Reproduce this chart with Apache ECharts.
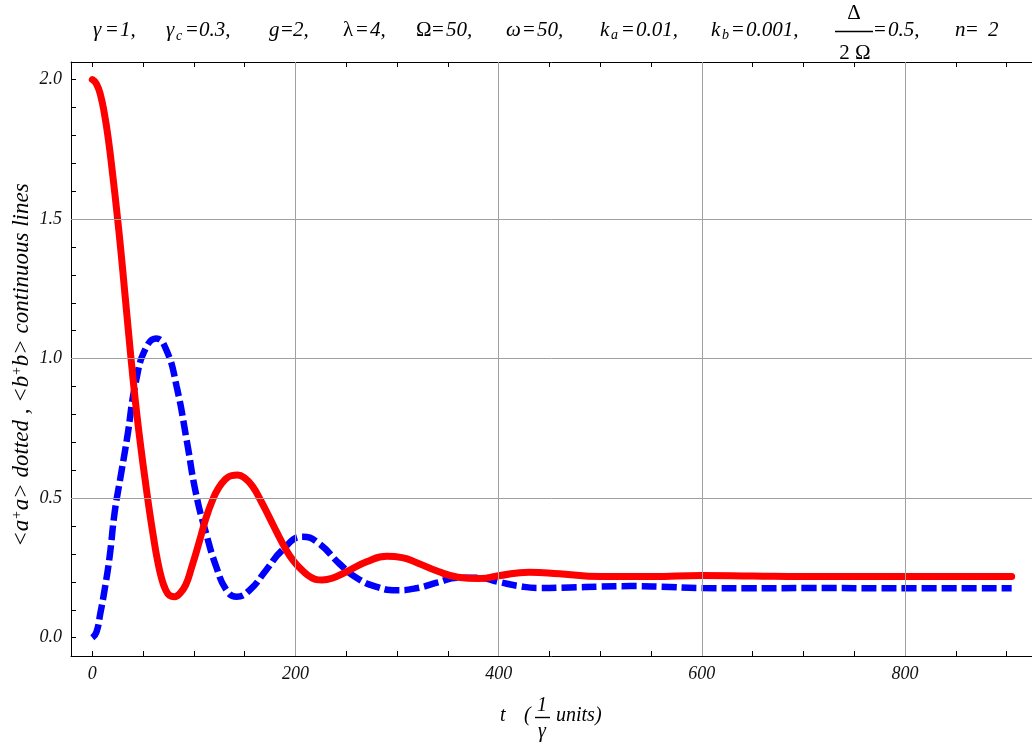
<!DOCTYPE html>
<html><head><meta charset="utf-8">
<script src="https://cdn.jsdelivr.net/npm/echarts@6/dist/echarts.min.js"></script>
<style>html,body{margin:0;padding:0;background:#fff}#c{width:1032px;height:745px}</style>
</head><body><div id="c"></div>
<script>
// <b+b> (continuous, red)
const redT = [0,4,8,12,16,20,24,28,32,36,40,44,48,52,56,60,64,68,72,76,81,86,92,98,105,112,118,124,131,137,143,150,158,166,174,182,190,198,207,216,226,236,250,270,290,305,320,340,360,380,400,430,460,500,550,600,650,700,800,905];
const redV = [2.0,1.985,1.945,1.875,1.78,1.66,1.53,1.39,1.235,1.08,0.93,0.795,0.675,0.565,0.46,0.365,0.28,0.215,0.173,0.152,0.147,0.158,0.19,0.255,0.34,0.43,0.49,0.535,0.568,0.581,0.583,0.572,0.541,0.49,0.433,0.375,0.32,0.275,0.24,0.215,0.207,0.213,0.236,0.272,0.292,0.287,0.268,0.238,0.217,0.212,0.222,0.235,0.229,0.219,0.219,0.223,0.221,0.219,0.219,0.219];
// <a+a> (dotted, blue)
const blueT = [0,4,8,12,17,22,27,34,43,53,63,73,83,93,102,112,122,132,142,155,171,187,207,223,243,260,280,300,320,340,360,380,400,420,440,470,500,530,560,600,650,700,800,905];
const blueV = [0,0.02,0.09,0.17,0.29,0.45,0.56,0.71,0.92,1.04,1.072,1.03,0.9,0.705,0.517,0.374,0.254,0.171,0.147,0.171,0.242,0.314,0.362,0.338,0.266,0.215,0.182,0.17,0.178,0.198,0.215,0.215,0.2,0.185,0.178,0.18,0.183,0.185,0.183,0.178,0.177,0.178,0.177,0.177];

const xLabelVals = [0,200,400,600,800];
const xTickVals = [0,50,100,150,200,250,300,350,400,450,500,550,600,650,700,750,800,850,900];
const yLabelVals = [0,0.5,1,1.5,2];
const yTickVals = [0,0.1,0.2,0.3,0.4,0.5,0.6,0.7,0.8,0.9,1,1.1,1.2,1.3,1.4,1.5,1.6,1.7,1.8,1.9,2];
const xGridVals = [200,400,600,800];
const yGridVals = [0.5,1,1.5];
const X_MIN = -21, X_MAX = 925, Y_MIN = -0.0655, Y_MAX = 2.063;

const SERIF = '"Liberation Serif","DejaVu Serif",serif';
const redData = redT.map((t,i)=>[t,redV[i]]);
const blueData = blueT.map((t,i)=>[t,blueV[i]]);

function T(x,y,s,size,italic,align){
  return {type:'text',x:x,y:y,silent:true,z:10,
    style:{text:s,fontFamily:SERIF,fontSize:size,fontStyle:italic?'italic':'normal',fill:'#000',
      textAlign:align||'left',align:align||'left',textVerticalAlign:'middle',verticalAlign:'middle'}};
}
function L(x1,y1,x2,y2){
  return {type:'line',silent:true,z:10,shape:{x1:x1,y1:y1,x2:x2,y2:y2},style:{stroke:'#000',lineWidth:1.4}};
}
const TS = 21, SUB = 14, TY = 30;
const graphics = [
  T(93,TY,'γ',TS,true), T(106,TY,'=',TS,false), T(120,TY,'1,',TS,true),
  T(166,TY,'γ',TS,true), T(176,TY+6,'c',SUB,true), T(186,TY,'=',TS,false), T(199,TY,'0.3,',TS,true),
  T(269,TY,'g',TS,true), T(281,TY,'=',TS,false), T(293,TY,'2,',TS,true),
  T(343,TY,'λ',TS,false), T(356,TY,'=',TS,false), T(370,TY,'4,',TS,true),
  T(416,TY,'Ω',TS,false), T(432,TY,'=',TS,false), T(446,TY,'50,',TS,true),
  T(506,TY,'ω',TS,true), T(523,TY,'=',TS,false), T(537,TY,'50,',TS,true),
  T(600,TY,'k',TS,true), T(611,TY+5,'a',SUB,true), T(622,TY,'=',TS,false), T(636,TY,'0.01,',TS,true),
  T(711,TY,'k',TS,true), T(722,TY+5,'b',SUB,true), T(732,TY,'=',TS,false), T(746,TY,'0.001,',TS,true),
  T(854,13,'Δ',TS,false,'center'), L(835,31.5,873,31.5), T(855,53,'2 Ω',TS,false,'center'),
  T(874,TY,'=',TS,false), T(888,TY,'0.5,',TS,true),
  T(955,TY,'n',TS,true), T(966,TY,'=',TS,false), T(988,TY,'2',TS,true),
  // x axis title
  T(500,716,'t',20,true), T(524,716,'(',20,true),
  T(542,706,'1',20,true,'center'), L(535,717.5,550,717.5), T(542,732,'γ',20,true,'center'),
  T(556,716,'units)',20,true),
  // y axis title
  {type:'text',x:22,y:365,rotation:Math.PI/2,silent:true,z:10,
   style:{text:'<a{s|+}a> dotted , <b{s|+}b> continuous lines',fontFamily:SERIF,fontSize:23,fontStyle:'italic',fill:'#000',
     textAlign:'center',align:'center',textVerticalAlign:'middle',verticalAlign:'middle',
     rich:{s:{fontSize:14,fontFamily:SERIF,fontStyle:'italic',verticalAlign:'top',fill:'#000'}}}}
];

const axisLineStyle = {color:'#000',width:1};
const chart = echarts.init(document.getElementById('c'));
chart.setOption({
  animation:false,
  backgroundColor:'#fff',
  grid:{left:71,top:62,width:964,height:594,containLabel:false},
  xAxis:[
    {type:'value',min:X_MIN,max:X_MAX,position:'bottom',
     axisLine:{show:true,onZero:false,lineStyle:axisLineStyle},
     axisTick:{show:true,inside:true,length:5,customValues:xTickVals,lineStyle:axisLineStyle},
     axisLabel:{show:true,customValues:xLabelVals,margin:9,fontFamily:SERIF,fontStyle:'italic',fontSize:18,color:'#111'},
     splitLine:{show:false}},
    {type:'value',min:X_MIN,max:X_MAX,position:'top',
     axisLine:{show:true,onZero:false,lineStyle:axisLineStyle},
     axisTick:{show:true,inside:true,length:5,customValues:xTickVals,lineStyle:axisLineStyle},
     axisLabel:{show:false},splitLine:{show:false}}
  ],
  yAxis:[
    {type:'value',min:Y_MIN,max:Y_MAX,position:'left',
     axisLine:{show:true,onZero:false,lineStyle:axisLineStyle},
     axisTick:{show:true,inside:true,length:5,customValues:yTickVals,lineStyle:axisLineStyle},
     axisLabel:{show:true,customValues:yLabelVals,margin:9,fontFamily:SERIF,fontStyle:'italic',fontSize:18,color:'#111',
       formatter:v=>v.toFixed(1)},
     splitLine:{show:false}}
  ],
  series:[
    {type:'line',name:'grid',data:[],z:1,xAxisIndex:0,yAxisIndex:0,silent:true,
     markLine:{silent:true,symbol:['none','none'],label:{show:false},animation:false,
       lineStyle:{color:'#a0a0a0',width:1,type:'solid'},
       data:[...xGridVals.map(v=>({xAxis:v})),...yGridVals.map(v=>({yAxis:v}))]}},
    {type:'line',name:'<a+a>',data:blueData,z:2,smooth:0.5,symbol:'none',showSymbol:false,
     lineStyle:{color:'#0000ff',width:6.5,type:[15,5],cap:'butt'}},
    {type:'line',name:'<b+b>',data:redData,z:3,smooth:0.5,symbol:'none',showSymbol:false,
     lineStyle:{color:'#ff0000',width:7,cap:'round'}}
  ],
  graphic:graphics
});
</script></body></html>
